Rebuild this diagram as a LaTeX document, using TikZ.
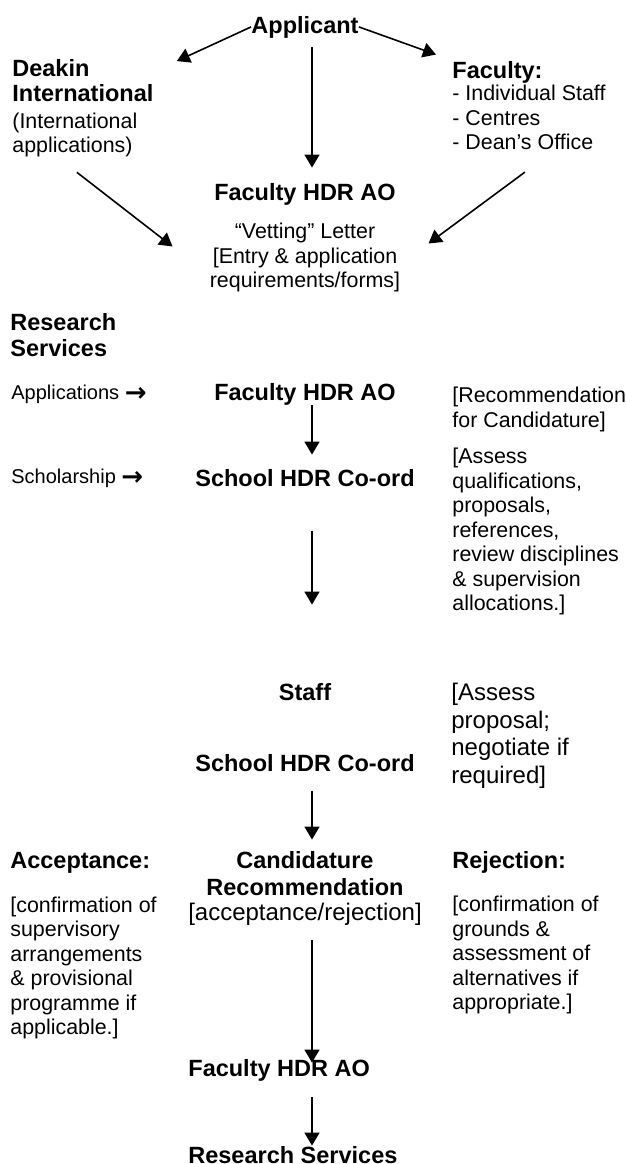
\documentclass[tikz,border=0pt]{standalone}
\usepackage{fontspec}
\setmainfont{Liberation Sans}
\newfontfamily\arrowfont{DejaVu Sans}
\usetikzlibrary{arrows.meta}
\newcommand{\hd}{\fontsize{11.75pt}{13.5pt}\selectfont\bfseries}
\newcommand{\nt}{\fontsize{10.7pt}{12.25pt}\selectfont}
\newcommand{\ntbig}{\fontsize{12pt}{13.8pt}\selectfont\mdseries}
\newcommand{\lbl}{\fontsize{10pt}{12pt}\selectfont}
\newcommand{\ra}{\raisebox{-1.2pt}{\fontsize{13pt}{13pt}\selectfont\arrowfont\bfseries →}}

\begin{document}
\begin{tikzpicture}[x=0.5pt,y=-0.5pt,
  box/.style={inner sep=0pt,font=\hd},
  note/.style={inner sep=0pt,font=\nt,align=left},
  arr/.style={-{Triangle[length=6.5pt,width=7.5pt]},line width=0.8pt}]
\useasboundingbox (0,0) rectangle (626,1164);
\coordinate (axis) at (312,0);

\node[box,anchor=base] (applicant) at (305,33) {Applicant};
\node[note,anchor=base west] (deakin) at (12,152.5) {\hd Deakin\\[0.25pt]\hd International\\[1pt](International\\applications)};
\node[note,anchor=base west] (faculty) at (452,149.5) {\hd Faculty:\\[-1pt]- Individual Staff\\- Centres\\- Dean’s Office};
\node[box,anchor=base] (hdrA) at (305,200) {Faculty HDR AO};
\node[note,align=center,anchor=base] (vetting) at (305,287.5) {“Vetting” Letter\\{[}Entry \& application\\requirements/forms]};

\node[box,align=left,anchor=base west] (research) at (10,356) {Research\\[-0.5pt]Services};
\node[inner sep=0pt,font=\lbl,anchor=base west] (applab) at (11,399.5) {Applications \ra};
\node[box,anchor=base] (hdrB) at (305,400) {Faculty HDR AO};
\node[note,anchor=base west] (recnote) at (452,427) {[Recommendation\\for Candidature]};
\node[inner sep=0pt,font=\lbl,anchor=base west] (schlab) at (11,483.5) {Scholarship \ra};
\node[box,anchor=base] (schA) at (305,486) {School HDR Co-ord};
\node[note,anchor=base west] (assessA) at (452,610.5) {[Assess\\qualifications,\\proposals,\\references,\\review disciplines\\\& supervision\\allocations.]};

\node[box,anchor=base] (staff) at (305,700) {Staff};
\node[note,font=\ntbig,anchor=base west] (assessB) at (451,783.5) {[Assess\\proposal;\\negotiate if\\required]};
\node[box,anchor=base] (schB) at (305,771) {School HDR Co-ord};

\node[box,anchor=base west] (accept) at (10,868) {Acceptance:};
\node[box,align=center,anchor=base] (cand) at (305,920) {Candidature\\Recommendation\\[-1pt]\ntbig{[}acceptance/rejection]};
\node[box,anchor=base west] (reject) at (452,868) {Rejection:};
\node[note,anchor=base west] (accnote) at (10,1034.5) {[confirmation of\\supervisory\\arrangements\\\& provisional\\programme if\\applicable.]};
\node[note,anchor=base west] (rejnote) at (452,1009.5) {[confirmation of\\grounds \&\\assessment of\\alternatives if\\appropriate.]};
\node[box,anchor=base west] (hdrC) at (188,1076) {Faculty HDR AO};
\node[box,anchor=base west] (rs) at (188,1163) {Research Services};

\draw[arr] (applicant.west) -- ([shift={(23,2)}]deakin.north east);
\draw[arr] (applicant.east) -- ([shift={(-16,-6)}]faculty.north west);
\draw[arr,shorten <=4.5pt,shorten >=7.5pt] (applicant.south -| axis) -- (hdrA.north -| axis);
\draw[arr] ([shift={(-6,15)}]deakin.south) -- ([shift={(-37,-11)}]vetting.west);
\draw[arr] ([shift={(-4,22)}]faculty.south) -- ([shift={(28,-14)}]vetting.east);

\draw[arr,shorten >=7pt] (hdrB.south -| axis) -- (schA.north -| axis);
\draw[arr,shorten <=22pt,shorten >=39pt] (schA.south -| axis) -- (staff.north -| axis);
\draw[arr,shorten <=9.5pt,shorten >=5.5pt] (schB.south -| axis) -- (cand.north -| axis);
\draw[arr,shorten <=7.5pt,shorten >=-2pt] (cand.south -| axis) -- (hdrC.north -| axis);
\draw[arr,shorten <=8pt] (hdrC.south -| axis) -- (rs.north -| axis);
\end{tikzpicture}
\end{document}
